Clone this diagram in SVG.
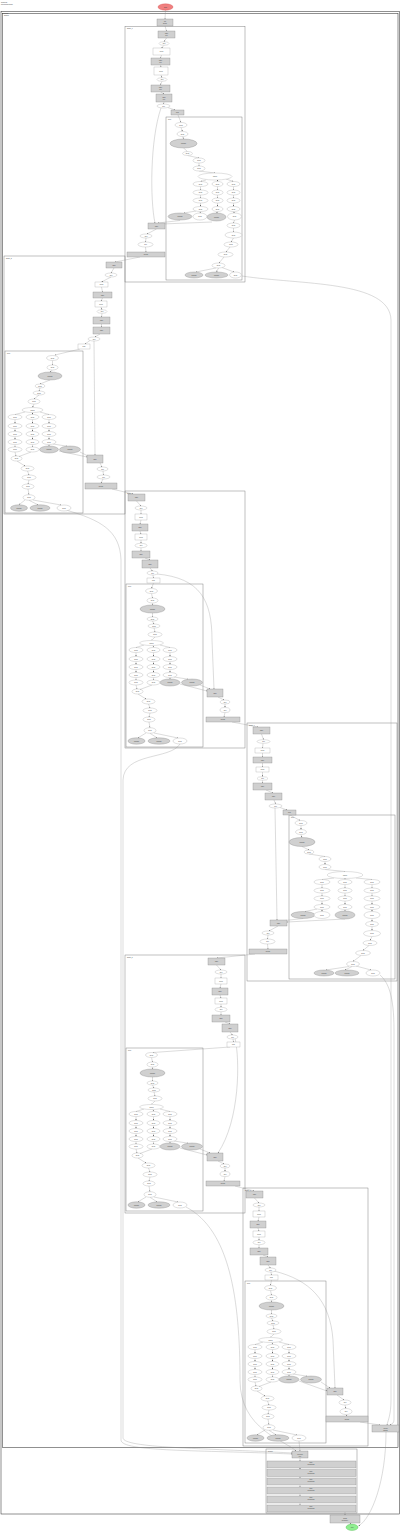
<svg xmlns="http://www.w3.org/2000/svg" width="400" height="1532" viewBox="0 0 400 1532">
<style>
.gb{fill:#d0d0d0;stroke:#777;stroke-width:.3}
.wb{fill:#fff;stroke:#999;stroke-width:.3}
.we{fill:#fff;stroke:#999;stroke-width:.3}
.ge{fill:#d0d0d0;stroke:#777;stroke-width:.3}
.cl{fill:none;stroke:#666;stroke-width:.4}
.co{fill:none;stroke:#222;stroke-width:.5}
#connectors path{fill:none;stroke:#888;stroke-width:.3;marker-end:url(#ah)}
text{font-family:"Liberation Sans",Arial,sans-serif;font-size:1.6px;fill:#444;text-anchor:middle}
text.l{text-anchor:start}
.in text{font-size:1.4px}
</style>
<defs>
<marker id="ah" viewBox="0 0 4 4" refX="4" refY="2" markerWidth="1.4" markerHeight="1.4" markerUnits="userSpaceOnUse" orient="auto"><path d="M0,0L4,2L0,4z" fill="#666"/></marker>
</defs>
<rect width="400" height="1532" fill="#fff"/>
<text class="l" x="1" y="2.5">workflow</text>
<text class="l" x="1" y="4.6">generated graph</text>
<g id="clusters">
<rect class="co" x="1" y="11.5" width="398.5" height="1502.5"/>
<text class="l" x="3" y="14.2">pipeline</text>
<rect class="co" x="2.5" y="13.5" width="395.5" height="1434"/>
<text class="l" x="4" y="16.2">stages</text>
<rect class="cl" x="125" y="26.5" width="120" height="255.5"/><text class="l" x="127" y="29">stage_1</text>
<rect class="cl" x="166" y="117" width="76" height="163"/><text class="l" x="168" y="119.5">loop</text>
<rect class="cl" x="4" y="256" width="121" height="258"/><text class="l" x="6" y="258.5">stage_2</text>
<rect class="cl" x="5" y="351" width="78" height="162"/><text class="l" x="7" y="353.5">loop</text>
<rect class="cl" x="125" y="491" width="120" height="257"/><text class="l" x="127" y="493.5">stage_3</text>
<rect class="cl" x="126" y="584" width="77" height="163"/><text class="l" x="128" y="586.5">loop</text>
<rect class="cl" x="247" y="723" width="150" height="258"/><text class="l" x="249" y="725.5">stage_4</text>
<rect class="cl" x="289" y="815" width="106" height="164"/><text class="l" x="291" y="817.5">loop</text>
<rect class="cl" x="125" y="955" width="120" height="258"/><text class="l" x="127" y="957.5">stage_5</text>
<rect class="cl" x="126" y="1048" width="77" height="163"/><text class="l" x="128" y="1050.5">loop</text>
<rect class="cl" x="243" y="1188" width="125" height="258"/><text class="l" x="245" y="1190.5">stage_6</text>
<rect class="cl" x="245" y="1281" width="81" height="162"/><text class="l" x="247" y="1283.5">loop</text>
<rect class="cl" x="266" y="1449" width="91" height="64"/><text class="l" x="268" y="1451.5">finalize</text>
</g>
<g id="connectors">
<path d="M165.5 10.2L165 19"/>
<path d="M165 26L166.5 31"/><path d="M166.5 38L164 41.7"/><path d="M164 45.3L161.5 48"/><path d="M161.5 55L160.5 58"/><path d="M160.5 65L161 67"/><path d="M161 75L162 77.7"/><path d="M162 81.3L160.5 85"/><path d="M160.5 92L164 94"/><path d="M164 102L163.5 104"/><path d="M168 107.6L175 110"/>
<path d="M178 115L181 122.5"/>
<path d="M161 108C150 140,150 200,155 223"/>
<path d="M180 220.5L158 223"/><path d="M212 222L162 224"/>
<path d="M156.5 229L147 234"/><path d="M146 238L145.5 242"/><path d="M145.5 247L146 252"/>
<path d="M140 257L115 262"/>
<path d="M114 268L111 273"/><path d="M111 277L101.5 282"/><path d="M101.5 287L102.5 292"/><path d="M102.5 298L101 301"/><path d="M101 307L102 309.7"/><path d="M102 313.3L101.5 317"/><path d="M101.5 324L101.5 327"/><path d="M100 334L95 337"/><path d="M90 340.5L85 344"/>
<path d="M80 349L55 355"/>
<path d="M94 341L95 455"/>
<path d="M59 451L87 457"/><path d="M80 452L88 456"/>
<path d="M100 463L102 467"/><path d="M103 471L103.5 475"/><path d="M103 479L101 483"/>
<path d="M112 489L133 494"/>
<path d="M136.5 501L141 506"/><path d="M141 510L141 514"/><path d="M141 520L140 524"/><path d="M140 531L141 534"/><path d="M141 540L141 543.3"/><path d="M141 547.7L141 551"/><path d="M145 558L150 560"/><path d="M150 568L152.5 571"/><path d="M153 575L153.5 578"/>
<path d="M153.5 583L151.5 588.5"/>
<path d="M157 574C200 578,212 600,212 640L214 689"/>
<path d="M180 684L207 691"/><path d="M200 685L210 689"/>
<path d="M218 697L224 700"/><path d="M225 704L225 707.5"/><path d="M225 712.5L224 717"/>
<path d="M232 722L258 727"/>
<path d="M261.5 734L263.5 739.7"/><path d="M263 743.3L262.5 748"/><path d="M262.5 753L262.5 757"/><path d="M262.5 763L262.5 767"/><path d="M262.5 772L262.5 776.7"/><path d="M262.5 780.3L262.5 783"/><path d="M266 790L273 793"/><path d="M274 800L275.5 804"/><path d="M280 807.5L287 810"/>
<path d="M290 815L300 820.5"/>
<path d="M275 808L277 920"/>
<path d="M303 918.5L285 920.5"/><path d="M345 919L287 922"/>
<path d="M278 926L269 931"/><path d="M268 935L267.5 939"/><path d="M267.5 944L268 949"/>
<path d="M255 954L217 958"/>
<path d="M216.5 965L221 970"/><path d="M221 974L221 978"/><path d="M221 984L220 988"/><path d="M220 995L221 998"/><path d="M221 1004L221 1007.3"/><path d="M221 1011.7L221 1015"/><path d="M225 1022L230 1024"/><path d="M230 1032L232.5 1035"/><path d="M233 1039L233.5 1042"/>
<path d="M230 1047L153 1052.5"/>
<path d="M235 1038C240 1060,240 1120,218 1153"/>
<path d="M180 1148L207 1155"/><path d="M200 1149L210 1153"/>
<path d="M218 1161L224 1164"/><path d="M225 1168L225 1171.5"/><path d="M225 1176.5L224 1181"/>
<path d="M235 1186L254 1191"/>
<path d="M254.5 1198L259 1203"/><path d="M259 1207L259 1211"/><path d="M259 1217L258 1221"/><path d="M258 1228L259 1231"/><path d="M259 1237L259 1240.3"/><path d="M259 1244.7L259 1248"/><path d="M263 1255L268 1257"/><path d="M268 1265L270.5 1268"/><path d="M271 1272L271.5 1275"/>
<path d="M271.5 1280L270.5 1285.5"/>
<path d="M274 1271C310 1280,330 1300,333 1340L335 1388"/>
<path d="M299 1381L327 1391"/><path d="M321 1382L330 1388"/>
<path d="M337 1395L344 1400"/><path d="M345 1405L346 1408.5"/><path d="M346 1414.5L347 1416"/>
<path d="M360 1422L380 1425"/>
<path d="M242 276C300 285,390 280,391 320L391 1400C391 1415,388 1420,387 1425"/>
<path d="M66 510C100 520,120 530,121 560L121 1440C121 1452,200 1450,292 1454"/>
<path d="M180 744C170 760,124 752,123 780L123 1438C124 1448,200 1448,292 1453"/>
<path d="M380 975C388 982,394 995,394 1030L394 1420C394 1423,392 1424,390 1425"/>
<path d="M186 1207C230 1230,240 1300,240 1380C240 1430,285 1440,296 1451"/>
<path d="M299 1441L300 1451"/>
<path d="M300 1458L300 1461"/><path d="M300 1468L300 1469.5"/><path d="M300 1476.5L300 1478"/><path d="M300 1485L300 1487"/><path d="M300 1494L300 1496"/><path d="M300 1503L300 1505"/>
<path d="M345 1512L345 1515"/>
<path d="M350 1523L351 1524.2"/>
<path d="M386 1432C386 1480,372 1518,358.5 1526"/>
<g transform="translate(166,117)">
<path d="M15 10.5L16.5 14.5"/><path d="M16.5 19.5L17.5 22"/><path d="M17.5 31L21.5 34.5"/><path d="M21.5 38.5L33 41"/><path d="M33 46L33 49"/><path d="M33 54L49 56"/>
<path d="M40 63L34.5 64.5"/><path d="M51.5 63L51.5 64.5"/><path d="M60 62L67.5 64.5"/>
<path d="M34.5 69.5L34.5 73"/><path d="M34.5 78L34.5 81"/><path d="M34.5 86L34.5 89.5"/>
<path d="M51.5 69.5L51.5 73"/><path d="M51.5 78L51.5 81"/><path d="M51.5 86L51.5 89.5"/>
<path d="M67.5 69.5L67.5 73"/><path d="M67.5 78L67.5 81"/><path d="M67.5 86L67.5 89.5"/>
<path d="M34.5 94.5L34 96"/><path d="M30 94L18 96"/><path d="M51.5 94.5L50.5 96"/><path d="M67.5 94.5L68.5 96"/>
<path d="M68.5 103L67.5 106"/><path d="M67.5 111L67.5 115"/><path d="M67.5 121L65 125"/><path d="M64 130L60 135"/><path d="M58 140L53 146"/>
<path d="M50 151L30 155"/><path d="M52.5 151L50.5 155"/><path d="M56 150.5L68 155"/>
</g>
<g transform="translate(5,351)">
<path d="M47.5 9.5L47.5 14"/><path d="M47.5 19L45 21"/><path d="M45 29L35 33"/><path d="M35 37L34 40"/><path d="M34 44L29 48"/><path d="M29 53L27.5 56.5"/>
<path d="M20 61L10 63.5"/><path d="M27.5 61.5L27.5 63.5"/><path d="M35 61L44 63.5"/>
<path d="M10 68.5L10 72.5"/><path d="M10 77.5L10 80.5"/><path d="M10 85.5L10 88.5"/>
<path d="M27.5 68.5L27.5 72.5"/><path d="M27.5 77.5L27.5 80.5"/><path d="M27.5 85.5L27.5 88.5"/>
<path d="M44 68.5L44 72.5"/><path d="M44 77.5L44 80.5"/><path d="M44 85.5L44 88.5"/>
<path d="M10 93.5L10 96"/><path d="M27.5 93.5L27.5 96"/><path d="M44 93.5L44 95"/><path d="M48 93L62 95.2"/>
<path d="M10 101L11 105"/><path d="M26 101L14 105.5"/>
<path d="M12 110L20 115"/><path d="M22.5 120L24 124"/><path d="M24 129L23 133"/><path d="M23 138L24 143.7"/>
<path d="M20 149L14 153.8"/><path d="M24 149.3L33 153.8"/><path d="M28 149L56 154"/>
</g>
<g transform="translate(126,584)">
<path d="M25.5 9.5L26.5 14"/><path d="M26.5 19L26.5 21"/><path d="M26.5 29L26.5 33"/><path d="M26.5 37L28 40"/><path d="M28 44L29 48"/><path d="M29 53L25.5 56.5"/>
<path d="M18 61L10 63.5"/><path d="M27 61.5L27.5 63.5"/><path d="M34 61L44 63.5"/>
<path d="M10 68.5L10 72.5"/><path d="M10 77.5L10 80.5"/><path d="M10 85.5L10 88.5"/>
<path d="M27.5 68.5L27.5 72.5"/><path d="M27.5 77.5L27.5 80.5"/><path d="M27.5 85.5L27.5 88.5"/>
<path d="M44 68.5L44 72.5"/><path d="M44 77.5L44 80.5"/><path d="M44 85.5L44 88.5"/>
<path d="M10 93.5L10 96"/><path d="M27.5 93.5L27.5 96"/><path d="M44 93.5L44 95"/><path d="M48 93L62 95.2"/>
<path d="M10 101L11 105"/><path d="M26 101L14 105.5"/>
<path d="M12 110L20 115"/><path d="M22.5 120L24 124"/><path d="M24 129L23 133"/><path d="M23 138L24 143.7"/>
<path d="M20 149L12 153.8"/><path d="M24 149.3L31 153.8"/><path d="M28 149L52 154"/>
</g>
<g transform="translate(289,815)">
<path d="M12 10.5L12 14.5"/><path d="M12 19.5L13 22.5"/><path d="M13 31.5L20 35"/><path d="M20 39L36 41.5"/><path d="M36 46.5L36 49.5"/><path d="M36 54.5L56 56.5"/>
<path d="M45 63L33 64.5"/><path d="M56 63.5L56 64.5"/><path d="M67 63L83 64.5"/>
<path d="M33 69.5L33 73"/><path d="M33 78L33 81"/><path d="M33 86L33 89.5"/>
<path d="M56 69.5L56 73"/><path d="M56 78L56 81"/><path d="M56 86L56 89.5"/>
<path d="M83 69.5L83 73"/><path d="M83 78L83 81"/><path d="M83 86L83 89.5"/>
<path d="M33 94.5L33 96.5"/><path d="M28 94L16 96.5"/><path d="M56 94.5L56 96"/><path d="M83 94.5L83 96.5"/>
<path d="M83 103.5L83 106.5"/><path d="M83 111.5L83 115.5"/><path d="M83 121.5L81 125.5"/><path d="M80 130.5L74 135.5"/><path d="M72 140.5L64 146.5"/>
<path d="M60 151.5L37 155"/><path d="M63 151.5L56 155"/><path d="M67 151L82 155"/>
</g>
<g transform="translate(126,1048)">
<path d="M25.5 9.5L26.5 14"/><path d="M26.5 19L26.5 21"/><path d="M26.5 29L26.5 33"/><path d="M26.5 37L28 40"/><path d="M28 44L29 48"/><path d="M29 53L25.5 56.5"/>
<path d="M18 61L10 63.5"/><path d="M27 61.5L27.5 63.5"/><path d="M34 61L44 63.5"/>
<path d="M10 68.5L10 72.5"/><path d="M10 77.5L10 80.5"/><path d="M10 85.5L10 88.5"/>
<path d="M27.5 68.5L27.5 72.5"/><path d="M27.5 77.5L27.5 80.5"/><path d="M27.5 85.5L27.5 88.5"/>
<path d="M44 68.5L44 72.5"/><path d="M44 77.5L44 80.5"/><path d="M44 85.5L44 88.5"/>
<path d="M10 93.5L10 96"/><path d="M27.5 93.5L27.5 96"/><path d="M44 93.5L44 95"/><path d="M48 93L62 95.2"/>
<path d="M10 101L11 105"/><path d="M26 101L14 105.5"/>
<path d="M12 110L20 115"/><path d="M22.5 120L24 124"/><path d="M24 129L23 133"/><path d="M23 138L24 143.7"/>
<path d="M20 149L12 153.8"/><path d="M24 149.3L31 153.8"/><path d="M28 149L52 154"/>
</g>
<g transform="translate(245,1281)">
<path d="M25.5 9.5L26.5 14"/><path d="M26.5 19L26.5 21"/><path d="M26.5 29L26.5 33"/><path d="M26.5 37L28 40"/><path d="M28 44L29 48"/><path d="M29 53L25.5 56.5"/>
<path d="M18 61L10 63.5"/><path d="M27 61.5L27.5 63.5"/><path d="M34 61L44 63.5"/>
<path d="M10 68.5L10 72.5"/><path d="M10 77.5L10 80.5"/><path d="M10 85.5L10 88.5"/>
<path d="M27.5 68.5L27.5 72.5"/><path d="M27.5 77.5L27.5 80.5"/><path d="M27.5 85.5L27.5 88.5"/>
<path d="M44 68.5L44 72.5"/><path d="M44 77.5L44 80.5"/><path d="M44 85.5L44 88.5"/>
<path d="M10 93.5L10 96"/><path d="M27.5 93.5L27.5 96"/><path d="M44 93.5L44 95"/><path d="M48 93L62 95.2"/>
<path d="M10 101L11 105"/><path d="M26 101L14 105.5"/>
<path d="M12 110L20 115"/><path d="M22.5 120L24 124"/><path d="M24 129L23 133"/><path d="M23 138L24 143.7"/>
<path d="M20 149L12 153.8"/><path d="M24 149.3L31 153.8"/><path d="M28 149L52 154"/>
</g>
</g>
<g id="start"><ellipse cx="165.5" cy="7" rx="7.5" ry="3.2" fill="#f08080" stroke="#c33" stroke-width=".3"/><text x="165.5" y="7.6">start</text></g>
<g id="init"><rect class="gb" x="157" y="19" width="16" height="7"/><text x="165" y="22">init</text><text x="165" y="24">setup</text></g>
<g id="A1"><rect class="gb" x="158" y="31" width="17" height="7"/><text x="166.5" y="34">task</text><text x="166.5" y="36">run</text></g>
<g id="A2"><ellipse class="we" cx="164" cy="43.5" rx="5" ry="1.8"/><text x="164" y="44.1">ok?</text></g>
<g id="A3"><rect class="wb" x="153" y="48" width="17" height="7"/><text x="161.5" y="52">input</text></g>
<g id="A4"><rect class="gb" x="151" y="58" width="19" height="7"/><text x="160.5" y="61">task</text><text x="160.5" y="63">run</text></g>
<g id="A5"><rect class="wb" x="154" y="67" width="14" height="8"/><text x="161" y="71.5">input</text></g>
<g id="A6"><ellipse class="we" cx="162" cy="79.5" rx="5" ry="1.8"/><text x="162" y="80.1">ok?</text></g>
<g id="A7"><rect class="gb" x="151" y="85" width="19" height="7"/><text x="160.5" y="88">task</text><text x="160.5" y="90">run</text></g>
<g id="A8"><rect class="gb" x="156" y="94" width="16" height="8"/><text x="164" y="97.5">task</text><text x="164" y="99.5">run</text></g>
<g id="A9"><ellipse class="we" cx="163.5" cy="106" rx="6.5" ry="2"/><text x="163.5" y="106.6">ok?</text></g>
<g id="A10"><rect class="gb" x="171" y="110" width="13" height="5"/><text x="177.5" y="113">loop</text></g>
<g id="AS1"><rect class="gb" x="148" y="223" width="17" height="6"/><text x="156.5" y="226.5">task</text></g>
<g id="AS2"><ellipse class="we" cx="146" cy="236" rx="6" ry="2"/><text x="146" y="236.6">ok?</text></g>
<g id="AS3"><ellipse class="we" cx="145.5" cy="244.5" rx="7.5" ry="2.5"/><text x="145.5" y="245.1">ok?</text></g>
<g id="AS4"><rect class="gb" x="127" y="252" width="38" height="5"/><text x="146" y="255">merge</text></g>
<g id="B1"><rect class="gb" x="106" y="262" width="16" height="6"/><text x="114" y="265.5">task</text></g>
<g id="B2"><ellipse class="we" cx="111" cy="275" rx="6" ry="2"/><text x="111" y="275.6">ok?</text></g>
<g id="B3"><rect class="wb" x="95" y="282" width="13" height="5"/><text x="101.5" y="285">input</text></g>
<g id="B4"><rect class="gb" x="93" y="292" width="19" height="6"/><text x="102.5" y="295.5">task</text></g>
<g id="B5"><rect class="wb" x="95" y="301" width="12" height="6"/><text x="101" y="304.5">input</text></g>
<g id="B6"><ellipse class="we" cx="102" cy="311.5" rx="5" ry="1.8"/><text x="102" y="312.1">ok?</text></g>
<g id="B7"><rect class="gb" x="93" y="317" width="17" height="7"/><text x="101.5" y="321">task</text></g>
<g id="B8"><rect class="gb" x="93" y="327" width="17" height="7"/><text x="101.5" y="331">task</text></g>
<g id="B9"><ellipse class="we" cx="94" cy="339" rx="6" ry="2"/><text x="94" y="339.6">ok?</text></g>
<g id="B10"><rect class="wb" x="78" y="344" width="12" height="5"/><text x="84" y="347">loop</text></g>
<g id="BS1"><rect class="gb" x="87" y="455" width="16" height="8"/><text x="95" y="459.5">task</text></g>
<g id="BS2"><ellipse class="we" cx="102.5" cy="469" rx="5.5" ry="2"/><text x="102.5" y="469.6">ok?</text></g>
<g id="BS3"><ellipse class="we" cx="103.5" cy="477" rx="6.5" ry="2"/><text x="103.5" y="477.6">ok?</text></g>
<g id="BS4"><rect class="gb" x="85" y="483" width="32" height="6"/><text x="101" y="486.5">merge</text></g>
<g id="C1"><rect class="gb" x="128" y="494" width="17" height="7"/><text x="136.5" y="498">task</text></g>
<g id="C2"><ellipse class="we" cx="141" cy="508" rx="6" ry="2"/><text x="141" y="508.6">ok?</text></g>
<g id="C3"><rect class="wb" x="135" y="514" width="12" height="6"/><text x="141" y="517.5">input</text></g>
<g id="C4"><rect class="gb" x="132" y="524" width="16" height="7"/><text x="140" y="528">task</text></g>
<g id="C5"><rect class="wb" x="135" y="534" width="12" height="6"/><text x="141" y="537.5">input</text></g>
<g id="C6"><ellipse class="we" cx="141" cy="545.5" rx="6" ry="2.2"/><text x="141" y="546.1">ok?</text></g>
<g id="C7"><rect class="gb" x="132" y="551" width="18" height="7"/><text x="141" y="555">task</text></g>
<g id="C8"><rect class="gb" x="142" y="560" width="16" height="8"/><text x="150" y="564.5">task</text></g>
<g id="C9"><ellipse class="we" cx="152.5" cy="573" rx="5.5" ry="2"/><text x="152.5" y="573.6">ok?</text></g>
<g id="C10"><rect class="wb" x="147" y="578" width="13" height="5"/><text x="153.5" y="581">loop</text></g>
<g id="CS1"><rect class="gb" x="207" y="689" width="16" height="8"/><text x="215" y="693.5">task</text></g>
<g id="CS2"><ellipse class="we" cx="225" cy="702" rx="5" ry="2"/><text x="225" y="702.6">ok?</text></g>
<g id="CS3"><ellipse class="we" cx="225" cy="710" rx="5" ry="2.5"/><text x="225" y="710.6">ok?</text></g>
<g id="CS4"><rect class="gb" x="206" y="717" width="34" height="5"/><text x="223" y="720">merge</text></g>
<g id="D1"><rect class="gb" x="253" y="727" width="17" height="7"/><text x="261.5" y="731">task</text></g>
<g id="D2"><ellipse class="we" cx="263.5" cy="741.5" rx="6.5" ry="1.8"/><text x="263.5" y="742.1">ok?</text></g>
<g id="D3"><rect class="wb" x="255" y="748" width="15" height="5"/><text x="262.5" y="751">input</text></g>
<g id="D4"><rect class="gb" x="253" y="757" width="19" height="6"/><text x="262.5" y="760.5">task</text></g>
<g id="D5"><rect class="wb" x="256" y="767" width="13" height="5"/><text x="262.5" y="770">input</text></g>
<g id="D6"><ellipse class="we" cx="262.5" cy="778.5" rx="5.5" ry="1.8"/><text x="262.5" y="779.1">ok?</text></g>
<g id="D7"><rect class="gb" x="253" y="783" width="19" height="7"/><text x="262.5" y="787">task</text></g>
<g id="D8"><rect class="gb" x="265" y="793" width="17" height="7"/><text x="273.5" y="797">task</text></g>
<g id="D9"><ellipse class="we" cx="275.5" cy="806" rx="6.5" ry="2"/><text x="275.5" y="806.6">ok?</text></g>
<g id="D10"><rect class="gb" x="283" y="810" width="13" height="5"/><text x="289.5" y="813">loop</text></g>
<g id="DS1"><rect class="gb" x="270" y="920" width="17" height="6"/><text x="278.5" y="923.5">task</text></g>
<g id="DS2"><ellipse class="we" cx="268" cy="933" rx="6" ry="2"/><text x="268" y="933.6">ok?</text></g>
<g id="DS3"><ellipse class="we" cx="267.5" cy="941.5" rx="7.5" ry="2.5"/><text x="267.5" y="942.1">ok?</text></g>
<g id="DS4"><rect class="gb" x="249" y="949" width="38" height="5"/><text x="268" y="952">merge</text></g>
<g id="E1"><rect class="gb" x="208" y="958" width="17" height="7"/><text x="216.5" y="962">task</text></g>
<g id="E2"><ellipse class="we" cx="221" cy="972" rx="6" ry="2"/><text x="221" y="972.6">ok?</text></g>
<g id="E3"><rect class="wb" x="215" y="978" width="12" height="6"/><text x="221" y="981.5">input</text></g>
<g id="E4"><rect class="gb" x="212" y="988" width="16" height="7"/><text x="220" y="992">task</text></g>
<g id="E5"><rect class="wb" x="215" y="998" width="12" height="6"/><text x="221" y="1001.5">input</text></g>
<g id="E6"><ellipse class="we" cx="221" cy="1009.5" rx="6" ry="2.2"/><text x="221" y="1010.1">ok?</text></g>
<g id="E7"><rect class="gb" x="212" y="1015" width="18" height="7"/><text x="221" y="1019">task</text></g>
<g id="E8"><rect class="gb" x="222" y="1024" width="16" height="8"/><text x="230" y="1028.5">task</text></g>
<g id="E9"><ellipse class="we" cx="232.5" cy="1037" rx="5.5" ry="2"/><text x="232.5" y="1037.6">ok?</text></g>
<g id="E10"><rect class="wb" x="227" y="1042" width="13" height="5"/><text x="233.5" y="1045">loop</text></g>
<g id="ES1"><rect class="gb" x="207" y="1153" width="16" height="8"/><text x="215" y="1157.5">task</text></g>
<g id="ES2"><ellipse class="we" cx="225" cy="1166" rx="5" ry="2"/><text x="225" y="1166.6">ok?</text></g>
<g id="ES3"><ellipse class="we" cx="225" cy="1174" rx="5" ry="2.5"/><text x="225" y="1174.6">ok?</text></g>
<g id="ES4"><rect class="gb" x="206" y="1181" width="34" height="5"/><text x="223" y="1184">merge</text></g>
<g id="F1"><rect class="gb" x="246" y="1191" width="17" height="7"/><text x="254.5" y="1195">task</text></g>
<g id="F2"><ellipse class="we" cx="259" cy="1205" rx="6" ry="2"/><text x="259" y="1205.6">ok?</text></g>
<g id="F3"><rect class="wb" x="253" y="1211" width="12" height="6"/><text x="259" y="1214.5">input</text></g>
<g id="F4"><rect class="gb" x="250" y="1221" width="16" height="7"/><text x="258" y="1225">task</text></g>
<g id="F5"><rect class="wb" x="253" y="1231" width="12" height="6"/><text x="259" y="1234.5">input</text></g>
<g id="F6"><ellipse class="we" cx="259" cy="1242.5" rx="6" ry="2.2"/><text x="259" y="1243.1">ok?</text></g>
<g id="F7"><rect class="gb" x="250" y="1248" width="18" height="7"/><text x="259" y="1252">task</text></g>
<g id="F8"><rect class="gb" x="260" y="1257" width="16" height="8"/><text x="268" y="1261.5">task</text></g>
<g id="F9"><ellipse class="we" cx="270.5" cy="1270" rx="5.5" ry="2"/><text x="270.5" y="1270.6">ok?</text></g>
<g id="F10"><rect class="wb" x="265" y="1275" width="13" height="5"/><text x="271.5" y="1278">loop</text></g>
<g id="FS1"><rect class="gb" x="327" y="1388" width="16" height="7"/><text x="335" y="1392">task</text></g>
<g id="FS2"><ellipse class="we" cx="345" cy="1402.5" rx="6" ry="2.5"/><text x="345" y="1403.1">ok?</text></g>
<g id="FS3"><ellipse class="we" cx="346" cy="1411.5" rx="6" ry="3"/><text x="346" y="1412.1">ok?</text></g>
<g id="FS4"><rect class="gb" x="326" y="1416" width="42" height="6"/><text x="347" y="1419.5">merge</text></g>
<g class="in" transform="translate(166,117)">
<g id="Ai1"><ellipse class="we" cx="15" cy="8" rx="6" ry="2.5"/><text x="15" y="8.5">check</text></g>
<g id="Ai2"><ellipse class="we" cx="16.5" cy="17" rx="5.5" ry="2.5"/><text x="16.5" y="17.5">check</text></g>
<g id="Ai3"><ellipse class="ge" cx="17.5" cy="26.5" rx="13.5" ry="4.5"/><text x="17.5" y="27">subtask</text></g>
<g id="Ai4"><ellipse class="we" cx="21.5" cy="36.5" rx="5" ry="2"/><text x="21.5" y="37">check</text></g>
<g id="Ai5"><ellipse class="we" cx="33" cy="43.5" rx="6" ry="2.5"/><text x="33" y="44">check</text></g>
<g id="Ai6"><ellipse class="we" cx="33" cy="51.5" rx="6" ry="2.5"/><text x="33" y="52">check</text></g>
<g id="Ai7"><ellipse class="we" cx="49" cy="59.5" rx="17" ry="3.5"/><text x="49" y="60">switch</text></g>
<g id="Ai8"><ellipse class="we" cx="34.5" cy="67" rx="7.5" ry="2.5"/><text x="34.5" y="67.5">check</text></g>
<g id="Ai9"><ellipse class="we" cx="51.5" cy="67" rx="5.5" ry="2.5"/><text x="51.5" y="67.5">check</text></g>
<g id="Ai10"><ellipse class="we" cx="67.5" cy="67" rx="6.5" ry="2.5"/><text x="67.5" y="67.5">check</text></g>
<g id="Ai11"><ellipse class="we" cx="34.5" cy="75.5" rx="7.5" ry="2.5"/><text x="34.5" y="76">check</text></g>
<g id="Ai12"><ellipse class="we" cx="51.5" cy="75.5" rx="5.5" ry="2.5"/><text x="51.5" y="76">check</text></g>
<g id="Ai13"><ellipse class="we" cx="67.5" cy="75.5" rx="6.5" ry="2.5"/><text x="67.5" y="76">check</text></g>
<g id="Ai14"><ellipse class="we" cx="34.5" cy="83.5" rx="7.5" ry="2.5"/><text x="34.5" y="84">check</text></g>
<g id="Ai15"><ellipse class="we" cx="51.5" cy="83.5" rx="5.5" ry="2.5"/><text x="51.5" y="84">check</text></g>
<g id="Ai16"><ellipse class="we" cx="67.5" cy="83.5" rx="6.5" ry="2.5"/><text x="67.5" y="84">check</text></g>
<g id="Ai17"><ellipse class="we" cx="34.5" cy="92" rx="7.5" ry="2.5"/><text x="34.5" y="92.5">check</text></g>
<g id="Ai18"><ellipse class="we" cx="51.5" cy="92" rx="5.5" ry="2.5"/><text x="51.5" y="92.5">check</text></g>
<g id="Ai19"><ellipse class="we" cx="67.5" cy="92" rx="6.5" ry="2.5"/><text x="67.5" y="92.5">check</text></g>
<g id="Ai20"><ellipse class="ge" cx="14" cy="99.5" rx="12" ry="3.5"/><text x="14" y="100">subtask</text></g>
<g id="Ai21"><ellipse class="we" cx="34" cy="99.5" rx="7" ry="3.5"/><text x="34" y="100">check</text></g>
<g id="Ai22"><ellipse class="ge" cx="50.5" cy="100" rx="9.5" ry="4"/><text x="50.5" y="100.5">subtask</text></g>
<g id="Ai23"><ellipse class="we" cx="68.5" cy="99.5" rx="7" ry="3.5"/><text x="68.5" y="100">check</text></g>
<g id="Ai24"><ellipse class="we" cx="67.5" cy="108.5" rx="6.5" ry="2.5"/><text x="67.5" y="109">check</text></g>
<g id="Ai25"><ellipse class="we" cx="67.5" cy="118" rx="8.5" ry="3"/><text x="67.5" y="118.5">check</text></g>
<g id="Ai26"><ellipse class="we" cx="65" cy="127.5" rx="7" ry="2.5"/><text x="65" y="128">check</text></g>
<g id="Ai27"><ellipse class="we" cx="59.5" cy="137.5" rx="7.5" ry="2.5"/><text x="59.5" y="138">check</text></g>
<g id="Ai28"><ellipse class="we" cx="52.5" cy="148.5" rx="6.5" ry="2.5"/><text x="52.5" y="149">check</text></g>
<g id="Ai29"><ellipse class="ge" cx="28" cy="158" rx="9" ry="3"/><text x="28" y="158.5">subtask</text></g>
<g id="Ai30"><ellipse class="ge" cx="50.5" cy="158" rx="11.5" ry="3"/><text x="50.5" y="158.5">subtask</text></g>
<g id="Ai31"><ellipse class="we" cx="69.5" cy="158" rx="6" ry="3"/><text x="69.5" y="158.5">check</text></g>
</g>
<g class="in" transform="translate(289,815)">
<g id="Di1"><ellipse class="we" cx="12" cy="8" rx="6" ry="2.5"/><text x="12" y="8.5">check</text></g>
<g id="Di2"><ellipse class="we" cx="12" cy="17" rx="5.5" ry="2.5"/><text x="12" y="17.5">check</text></g>
<g id="Di3"><ellipse class="ge" cx="13" cy="27" rx="13" ry="4.5"/><text x="13" y="27.5">subtask</text></g>
<g id="Di4"><ellipse class="we" cx="20" cy="37" rx="5" ry="2"/><text x="20" y="37.5">check</text></g>
<g id="Di5"><ellipse class="we" cx="36" cy="44" rx="6" ry="2.5"/><text x="36" y="44.5">check</text></g>
<g id="Di6"><ellipse class="we" cx="36" cy="52" rx="6" ry="2.5"/><text x="36" y="52.5">check</text></g>
<g id="Di7"><ellipse class="we" cx="56" cy="60" rx="18" ry="3.5"/><text x="56" y="60.5">switch</text></g>
<g id="Di8"><ellipse class="we" cx="33" cy="67" rx="8" ry="2.5"/><text x="33" y="67.5">check</text></g>
<g id="Di9"><ellipse class="we" cx="56" cy="67" rx="7" ry="2.5"/><text x="56" y="67.5">check</text></g>
<g id="Di10"><ellipse class="we" cx="83" cy="67" rx="8" ry="2.5"/><text x="83" y="67.5">check</text></g>
<g id="Di11"><ellipse class="we" cx="33" cy="75.5" rx="8" ry="2.5"/><text x="33" y="76">check</text></g>
<g id="Di12"><ellipse class="we" cx="56" cy="75.5" rx="7" ry="2.5"/><text x="56" y="76">check</text></g>
<g id="Di13"><ellipse class="we" cx="83" cy="75.5" rx="8" ry="2.5"/><text x="83" y="76">check</text></g>
<g id="Di14"><ellipse class="we" cx="33" cy="83.5" rx="8" ry="2.5"/><text x="33" y="84">check</text></g>
<g id="Di15"><ellipse class="we" cx="56" cy="83.5" rx="7" ry="2.5"/><text x="56" y="84">check</text></g>
<g id="Di16"><ellipse class="we" cx="83" cy="83.5" rx="8" ry="2.5"/><text x="83" y="84">check</text></g>
<g id="Di17"><ellipse class="we" cx="33" cy="92" rx="8" ry="2.5"/><text x="33" y="92.5">check</text></g>
<g id="Di18"><ellipse class="we" cx="56" cy="92" rx="7" ry="2.5"/><text x="56" y="92.5">check</text></g>
<g id="Di19"><ellipse class="we" cx="83" cy="92" rx="8" ry="2.5"/><text x="83" y="92.5">check</text></g>
<g id="Di20"><ellipse class="ge" cx="14" cy="100" rx="12" ry="3.5"/><text x="14" y="100.5">subtask</text></g>
<g id="Di21"><ellipse class="we" cx="33" cy="100" rx="8" ry="3.5"/><text x="33" y="100.5">check</text></g>
<g id="Di22"><ellipse class="ge" cx="56" cy="100" rx="10" ry="4"/><text x="56" y="100.5">subtask</text></g>
<g id="Di23"><ellipse class="we" cx="83" cy="100" rx="8" ry="3.5"/><text x="83" y="100.5">check</text></g>
<g id="Di24"><ellipse class="we" cx="83" cy="109" rx="6.5" ry="2.5"/><text x="83" y="109.5">check</text></g>
<g id="Di25"><ellipse class="we" cx="83" cy="118.5" rx="8.5" ry="3"/><text x="83" y="119">check</text></g>
<g id="Di26"><ellipse class="we" cx="81" cy="128" rx="7" ry="2.5"/><text x="81" y="128.5">check</text></g>
<g id="Di27"><ellipse class="we" cx="74" cy="138" rx="7.5" ry="2.5"/><text x="74" y="138.5">check</text></g>
<g id="Di28"><ellipse class="we" cx="64" cy="149" rx="6.5" ry="2.5"/><text x="64" y="149.5">check</text></g>
<g id="Di29"><ellipse class="ge" cx="35" cy="158" rx="10" ry="3"/><text x="35" y="158.5">subtask</text></g>
<g id="Di30"><ellipse class="ge" cx="58" cy="158" rx="12" ry="3"/><text x="58" y="158.5">subtask</text></g>
<g id="Di31"><ellipse class="we" cx="84" cy="158" rx="7" ry="3"/><text x="84" y="158.5">check</text></g>
</g>
<g class="in" transform="translate(5,351)">
<g id="Bi1"><ellipse class="we" cx="47.5" cy="7" rx="6" ry="2.5"/><text x="47.5" y="7.5">check</text></g>
<g id="Bi2"><ellipse class="we" cx="47.5" cy="16.5" rx="5.5" ry="2.5"/><text x="47.5" y="17">check</text></g>
<g id="Bi3"><ellipse class="ge" cx="45" cy="25" rx="12" ry="4"/><text x="45" y="25.5">subtask</text></g>
<g id="Bi4"><ellipse class="we" cx="35" cy="35" rx="5" ry="2"/><text x="35" y="35.5">check</text></g>
<g id="Bi5"><ellipse class="we" cx="34" cy="42" rx="6" ry="2"/><text x="34" y="42.5">check</text></g>
<g id="Bi6"><ellipse class="we" cx="29" cy="50.5" rx="6" ry="2.5"/><text x="29" y="51">check</text></g>
<g id="Bi7"><ellipse class="we" cx="27.5" cy="59" rx="10.5" ry="2.5"/><text x="27.5" y="59.5">switch</text></g>
<g id="Bi8"><ellipse class="we" cx="10" cy="66" rx="7" ry="2.5"/><text x="10" y="66.5">check</text></g>
<g id="Bi9"><ellipse class="we" cx="27.5" cy="66" rx="6.5" ry="2.5"/><text x="27.5" y="66.5">check</text></g>
<g id="Bi10"><ellipse class="we" cx="44" cy="66" rx="7" ry="2.5"/><text x="44" y="66.5">check</text></g>
<g id="Bi11"><ellipse class="we" cx="10" cy="75" rx="7" ry="2.5"/><text x="10" y="75.5">check</text></g>
<g id="Bi12"><ellipse class="we" cx="27.5" cy="75" rx="6.5" ry="2.5"/><text x="27.5" y="75.5">check</text></g>
<g id="Bi13"><ellipse class="we" cx="44" cy="75" rx="7" ry="2.5"/><text x="44" y="75.5">check</text></g>
<g id="Bi14"><ellipse class="we" cx="10" cy="83" rx="7" ry="2.5"/><text x="10" y="83.5">check</text></g>
<g id="Bi15"><ellipse class="we" cx="27.5" cy="83" rx="6.5" ry="2.5"/><text x="27.5" y="83.5">check</text></g>
<g id="Bi16"><ellipse class="we" cx="44" cy="83" rx="7" ry="2.5"/><text x="44" y="83.5">check</text></g>
<g id="Bi17"><ellipse class="we" cx="10" cy="91" rx="7" ry="2.5"/><text x="10" y="91.5">check</text></g>
<g id="Bi18"><ellipse class="we" cx="27.5" cy="91" rx="6.5" ry="2.5"/><text x="27.5" y="91.5">check</text></g>
<g id="Bi19"><ellipse class="we" cx="44" cy="91" rx="7" ry="2.5"/><text x="44" y="91.5">check</text></g>
<g id="Bi20"><ellipse class="we" cx="10" cy="98.5" rx="7" ry="2.5"/><text x="10" y="99">check</text></g>
<g id="Bi21"><ellipse class="we" cx="27.5" cy="98.5" rx="6.5" ry="2.5"/><text x="27.5" y="99">check</text></g>
<g id="Bi22"><ellipse class="ge" cx="44" cy="98.5" rx="9.5" ry="3.5"/><text x="44" y="99">subtask</text></g>
<g id="Bi23"><ellipse class="ge" cx="65" cy="98.5" rx="10.5" ry="3.5"/><text x="65" y="99">subtask</text></g>
<g id="Bi24"><ellipse class="we" cx="11.5" cy="107.5" rx="5.5" ry="2.5"/><text x="11.5" y="108">check</text></g>
<g id="Bi25"><ellipse class="we" cx="22.5" cy="117.5" rx="6.5" ry="2.5"/><text x="22.5" y="118">check</text></g>
<g id="Bi26"><ellipse class="we" cx="24" cy="126.5" rx="7" ry="2.5"/><text x="24" y="127">check</text></g>
<g id="Bi27"><ellipse class="we" cx="23" cy="135.5" rx="6" ry="2.5"/><text x="23" y="136">check</text></g>
<g id="Bi28"><ellipse class="we" cx="24" cy="146.5" rx="6" ry="2.8"/><text x="24" y="147">check</text></g>
<g id="Bi29"><ellipse class="ge" cx="14" cy="157" rx="8.5" ry="3.2"/><text x="14" y="157.5">subtask</text></g>
<g id="Bi30"><ellipse class="ge" cx="35" cy="157" rx="10" ry="3.2"/><text x="35" y="157.5">subtask</text></g>
<g id="Bi31"><ellipse class="we" cx="59" cy="157" rx="7" ry="3"/><text x="59" y="157.5">check</text></g>
</g>
<g class="in" transform="translate(126,584)">
<g id="Ci1"><ellipse class="we" cx="25.5" cy="7" rx="6" ry="2.5"/><text x="25.5" y="7.5">check</text></g>
<g id="Ci2"><ellipse class="we" cx="26.5" cy="16.5" rx="5.5" ry="2.5"/><text x="26.5" y="17">check</text></g>
<g id="Ci3"><ellipse class="ge" cx="26.5" cy="25" rx="12.5" ry="4"/><text x="26.5" y="25.5">subtask</text></g>
<g id="Ci4"><ellipse class="we" cx="26.5" cy="35" rx="5.5" ry="2"/><text x="26.5" y="35.5">check</text></g>
<g id="Ci5"><ellipse class="we" cx="28" cy="42" rx="6" ry="2"/><text x="28" y="42.5">check</text></g>
<g id="Ci6"><ellipse class="we" cx="29" cy="50.5" rx="7" ry="2.5"/><text x="29" y="51">check</text></g>
<g id="Ci7"><ellipse class="we" cx="25.5" cy="59" rx="12" ry="2.5"/><text x="25.5" y="59.5">switch</text></g>
<g id="Ci8"><ellipse class="we" cx="10" cy="66" rx="7" ry="2.5"/><text x="10" y="66.5">check</text></g>
<g id="Ci9"><ellipse class="we" cx="27.5" cy="66" rx="6.5" ry="2.5"/><text x="27.5" y="66.5">check</text></g>
<g id="Ci10"><ellipse class="we" cx="44" cy="66" rx="7" ry="2.5"/><text x="44" y="66.5">check</text></g>
<g id="Ci11"><ellipse class="we" cx="10" cy="75" rx="7" ry="2.5"/><text x="10" y="75.5">check</text></g>
<g id="Ci12"><ellipse class="we" cx="27.5" cy="75" rx="6.5" ry="2.5"/><text x="27.5" y="75.5">check</text></g>
<g id="Ci13"><ellipse class="we" cx="44" cy="75" rx="7" ry="2.5"/><text x="44" y="75.5">check</text></g>
<g id="Ci14"><ellipse class="we" cx="10" cy="83" rx="7" ry="2.5"/><text x="10" y="83.5">check</text></g>
<g id="Ci15"><ellipse class="we" cx="27.5" cy="83" rx="6.5" ry="2.5"/><text x="27.5" y="83.5">check</text></g>
<g id="Ci16"><ellipse class="we" cx="44" cy="83" rx="7" ry="2.5"/><text x="44" y="83.5">check</text></g>
<g id="Ci17"><ellipse class="we" cx="10" cy="91" rx="7" ry="2.5"/><text x="10" y="91.5">check</text></g>
<g id="Ci18"><ellipse class="we" cx="27.5" cy="91" rx="6.5" ry="2.5"/><text x="27.5" y="91.5">check</text></g>
<g id="Ci19"><ellipse class="we" cx="44" cy="91" rx="7" ry="2.5"/><text x="44" y="91.5">check</text></g>
<g id="Ci20"><ellipse class="we" cx="10" cy="98.5" rx="7" ry="2.5"/><text x="10" y="99">check</text></g>
<g id="Ci21"><ellipse class="we" cx="27.5" cy="98.5" rx="6.5" ry="2.5"/><text x="27.5" y="99">check</text></g>
<g id="Ci22"><ellipse class="ge" cx="44" cy="98.5" rx="10" ry="3.5"/><text x="44" y="99">subtask</text></g>
<g id="Ci23"><ellipse class="ge" cx="66" cy="98.5" rx="10.5" ry="3.5"/><text x="66" y="99">subtask</text></g>
<g id="Ci24"><ellipse class="we" cx="11.5" cy="107.5" rx="5.5" ry="2.5"/><text x="11.5" y="108">check</text></g>
<g id="Ci25"><ellipse class="we" cx="22.5" cy="117.5" rx="6.5" ry="2.5"/><text x="22.5" y="118">check</text></g>
<g id="Ci26"><ellipse class="we" cx="24" cy="126.5" rx="7" ry="2.5"/><text x="24" y="127">check</text></g>
<g id="Ci27"><ellipse class="we" cx="23" cy="135.5" rx="6" ry="2.5"/><text x="23" y="136">check</text></g>
<g id="Ci28"><ellipse class="we" cx="24" cy="146.5" rx="6" ry="2.8"/><text x="24" y="147">check</text></g>
<g id="Ci29"><ellipse class="ge" cx="10.5" cy="157" rx="8.5" ry="3.2"/><text x="10.5" y="157.5">subtask</text></g>
<g id="Ci30"><ellipse class="ge" cx="33" cy="157" rx="11" ry="3.2"/><text x="33" y="157.5">subtask</text></g>
<g id="Ci31"><ellipse class="we" cx="54" cy="157" rx="7" ry="3"/><text x="54" y="157.5">check</text></g>
</g>
<g class="in" transform="translate(126,1048)">
<g id="Ei1"><ellipse class="we" cx="25.5" cy="7" rx="6" ry="2.5"/><text x="25.5" y="7.5">check</text></g>
<g id="Ei2"><ellipse class="we" cx="26.5" cy="16.5" rx="5.5" ry="2.5"/><text x="26.5" y="17">check</text></g>
<g id="Ei3"><ellipse class="ge" cx="26.5" cy="25" rx="12.5" ry="4"/><text x="26.5" y="25.5">subtask</text></g>
<g id="Ei4"><ellipse class="we" cx="26.5" cy="35" rx="5.5" ry="2"/><text x="26.5" y="35.5">check</text></g>
<g id="Ei5"><ellipse class="we" cx="28" cy="42" rx="6" ry="2"/><text x="28" y="42.5">check</text></g>
<g id="Ei6"><ellipse class="we" cx="29" cy="50.5" rx="7" ry="2.5"/><text x="29" y="51">check</text></g>
<g id="Ei7"><ellipse class="we" cx="25.5" cy="59" rx="12" ry="2.5"/><text x="25.5" y="59.5">switch</text></g>
<g id="Ei8"><ellipse class="we" cx="10" cy="66" rx="7" ry="2.5"/><text x="10" y="66.5">check</text></g>
<g id="Ei9"><ellipse class="we" cx="27.5" cy="66" rx="6.5" ry="2.5"/><text x="27.5" y="66.5">check</text></g>
<g id="Ei10"><ellipse class="we" cx="44" cy="66" rx="7" ry="2.5"/><text x="44" y="66.5">check</text></g>
<g id="Ei11"><ellipse class="we" cx="10" cy="75" rx="7" ry="2.5"/><text x="10" y="75.5">check</text></g>
<g id="Ei12"><ellipse class="we" cx="27.5" cy="75" rx="6.5" ry="2.5"/><text x="27.5" y="75.5">check</text></g>
<g id="Ei13"><ellipse class="we" cx="44" cy="75" rx="7" ry="2.5"/><text x="44" y="75.5">check</text></g>
<g id="Ei14"><ellipse class="we" cx="10" cy="83" rx="7" ry="2.5"/><text x="10" y="83.5">check</text></g>
<g id="Ei15"><ellipse class="we" cx="27.5" cy="83" rx="6.5" ry="2.5"/><text x="27.5" y="83.5">check</text></g>
<g id="Ei16"><ellipse class="we" cx="44" cy="83" rx="7" ry="2.5"/><text x="44" y="83.5">check</text></g>
<g id="Ei17"><ellipse class="we" cx="10" cy="91" rx="7" ry="2.5"/><text x="10" y="91.5">check</text></g>
<g id="Ei18"><ellipse class="we" cx="27.5" cy="91" rx="6.5" ry="2.5"/><text x="27.5" y="91.5">check</text></g>
<g id="Ei19"><ellipse class="we" cx="44" cy="91" rx="7" ry="2.5"/><text x="44" y="91.5">check</text></g>
<g id="Ei20"><ellipse class="we" cx="10" cy="98.5" rx="7" ry="2.5"/><text x="10" y="99">check</text></g>
<g id="Ei21"><ellipse class="we" cx="27.5" cy="98.5" rx="6.5" ry="2.5"/><text x="27.5" y="99">check</text></g>
<g id="Ei22"><ellipse class="ge" cx="44" cy="98.5" rx="10" ry="3.5"/><text x="44" y="99">subtask</text></g>
<g id="Ei23"><ellipse class="ge" cx="66" cy="98.5" rx="10.5" ry="3.5"/><text x="66" y="99">subtask</text></g>
<g id="Ei24"><ellipse class="we" cx="11.5" cy="107.5" rx="5.5" ry="2.5"/><text x="11.5" y="108">check</text></g>
<g id="Ei25"><ellipse class="we" cx="22.5" cy="117.5" rx="6.5" ry="2.5"/><text x="22.5" y="118">check</text></g>
<g id="Ei26"><ellipse class="we" cx="24" cy="126.5" rx="7" ry="2.5"/><text x="24" y="127">check</text></g>
<g id="Ei27"><ellipse class="we" cx="23" cy="135.5" rx="6" ry="2.5"/><text x="23" y="136">check</text></g>
<g id="Ei28"><ellipse class="we" cx="24" cy="146.5" rx="6" ry="2.8"/><text x="24" y="147">check</text></g>
<g id="Ei29"><ellipse class="ge" cx="10.5" cy="157" rx="8.5" ry="3.2"/><text x="10.5" y="157.5">subtask</text></g>
<g id="Ei30"><ellipse class="ge" cx="33" cy="157" rx="11" ry="3.2"/><text x="33" y="157.5">subtask</text></g>
<g id="Ei31"><ellipse class="we" cx="54" cy="157" rx="7" ry="3"/><text x="54" y="157.5">check</text></g>
</g>
<g class="in" transform="translate(245,1281)">
<g id="Fi1"><ellipse class="we" cx="25.5" cy="7" rx="6" ry="2.5"/><text x="25.5" y="7.5">check</text></g>
<g id="Fi2"><ellipse class="we" cx="26.5" cy="16.5" rx="5.5" ry="2.5"/><text x="26.5" y="17">check</text></g>
<g id="Fi3"><ellipse class="ge" cx="26.5" cy="25" rx="12.5" ry="4"/><text x="26.5" y="25.5">subtask</text></g>
<g id="Fi4"><ellipse class="we" cx="26.5" cy="35" rx="5.5" ry="2"/><text x="26.5" y="35.5">check</text></g>
<g id="Fi5"><ellipse class="we" cx="28" cy="42" rx="6" ry="2"/><text x="28" y="42.5">check</text></g>
<g id="Fi6"><ellipse class="we" cx="29" cy="50.5" rx="7" ry="2.5"/><text x="29" y="51">check</text></g>
<g id="Fi7"><ellipse class="we" cx="25.5" cy="59" rx="12" ry="2.5"/><text x="25.5" y="59.5">switch</text></g>
<g id="Fi8"><ellipse class="we" cx="10" cy="66" rx="7" ry="2.5"/><text x="10" y="66.5">check</text></g>
<g id="Fi9"><ellipse class="we" cx="27.5" cy="66" rx="6.5" ry="2.5"/><text x="27.5" y="66.5">check</text></g>
<g id="Fi10"><ellipse class="we" cx="44" cy="66" rx="7" ry="2.5"/><text x="44" y="66.5">check</text></g>
<g id="Fi11"><ellipse class="we" cx="10" cy="75" rx="7" ry="2.5"/><text x="10" y="75.5">check</text></g>
<g id="Fi12"><ellipse class="we" cx="27.5" cy="75" rx="6.5" ry="2.5"/><text x="27.5" y="75.5">check</text></g>
<g id="Fi13"><ellipse class="we" cx="44" cy="75" rx="7" ry="2.5"/><text x="44" y="75.5">check</text></g>
<g id="Fi14"><ellipse class="we" cx="10" cy="83" rx="7" ry="2.5"/><text x="10" y="83.5">check</text></g>
<g id="Fi15"><ellipse class="we" cx="27.5" cy="83" rx="6.5" ry="2.5"/><text x="27.5" y="83.5">check</text></g>
<g id="Fi16"><ellipse class="we" cx="44" cy="83" rx="7" ry="2.5"/><text x="44" y="83.5">check</text></g>
<g id="Fi17"><ellipse class="we" cx="10" cy="91" rx="7" ry="2.5"/><text x="10" y="91.5">check</text></g>
<g id="Fi18"><ellipse class="we" cx="27.5" cy="91" rx="6.5" ry="2.5"/><text x="27.5" y="91.5">check</text></g>
<g id="Fi19"><ellipse class="we" cx="44" cy="91" rx="7" ry="2.5"/><text x="44" y="91.5">check</text></g>
<g id="Fi20"><ellipse class="we" cx="10" cy="98.5" rx="7" ry="2.5"/><text x="10" y="99">check</text></g>
<g id="Fi21"><ellipse class="we" cx="27.5" cy="98.5" rx="6.5" ry="2.5"/><text x="27.5" y="99">check</text></g>
<g id="Fi22"><ellipse class="ge" cx="44" cy="98.5" rx="10" ry="3.5"/><text x="44" y="99">subtask</text></g>
<g id="Fi23"><ellipse class="ge" cx="66" cy="98.5" rx="10.5" ry="3.5"/><text x="66" y="99">subtask</text></g>
<g id="Fi24"><ellipse class="we" cx="11.5" cy="107.5" rx="5.5" ry="2.5"/><text x="11.5" y="108">check</text></g>
<g id="Fi25"><ellipse class="we" cx="22.5" cy="117.5" rx="6.5" ry="2.5"/><text x="22.5" y="118">check</text></g>
<g id="Fi26"><ellipse class="we" cx="24" cy="126.5" rx="7" ry="2.5"/><text x="24" y="127">check</text></g>
<g id="Fi27"><ellipse class="we" cx="23" cy="135.5" rx="6" ry="2.5"/><text x="23" y="136">check</text></g>
<g id="Fi28"><ellipse class="we" cx="24" cy="146.5" rx="6" ry="2.8"/><text x="24" y="147">check</text></g>
<g id="Fi29"><ellipse class="ge" cx="10.5" cy="157" rx="8.5" ry="3.2"/><text x="10.5" y="157.5">subtask</text></g>
<g id="Fi30"><ellipse class="ge" cx="33" cy="157" rx="11" ry="3.2"/><text x="33" y="157.5">subtask</text></g>
<g id="Fi31"><ellipse class="we" cx="54" cy="157" rx="7" ry="3"/><text x="54" y="157.5">check</text></g>
</g>
<g id="RB"><rect class="gb" x="372" y="1425" width="27" height="7"/><text x="385.5" y="1428.5">report</text><text x="385.5" y="1430.5">status</text></g>
<g id="RT"><rect class="gb" x="292" y="1451" width="16" height="7"/><text x="300" y="1454.5">cleanup</text><text x="300" y="1456.5">run</text></g>
<g id="R1"><rect class="gb" x="267" y="1461" width="89" height="7"/><text x="311" y="1463">step</text><text x="311" y="1465.2">command</text></g>
<g id="R2"><rect class="gb" x="267" y="1469.5" width="89" height="7"/><text x="311" y="1471.5">step</text><text x="311" y="1473.7">command</text></g>
<g id="R3"><rect class="gb" x="267" y="1478" width="89" height="7"/><text x="311" y="1480">step</text><text x="311" y="1482.2">command</text></g>
<g id="R4"><rect class="gb" x="267" y="1487" width="89" height="7"/><text x="311" y="1489">step</text><text x="311" y="1491.2">command</text></g>
<g id="R5"><rect class="gb" x="267" y="1496" width="89" height="7"/><text x="311" y="1498">step</text><text x="311" y="1500.2">command</text></g>
<g id="R6"><rect class="gb" x="267" y="1505" width="89" height="7"/><text x="311" y="1507">step</text><text x="311" y="1509.2">command</text></g>
<g id="FB"><rect class="gb" x="330" y="1515" width="30" height="8"/><text x="345" y="1518.5">finish</text><text x="345" y="1520.7">summary</text></g>
<g id="end"><ellipse cx="352" cy="1527.3" rx="6" ry="3.2" fill="#90ee90" stroke="#3a3" stroke-width=".3"/><text x="352" y="1527.9">end</text></g>
</svg>
